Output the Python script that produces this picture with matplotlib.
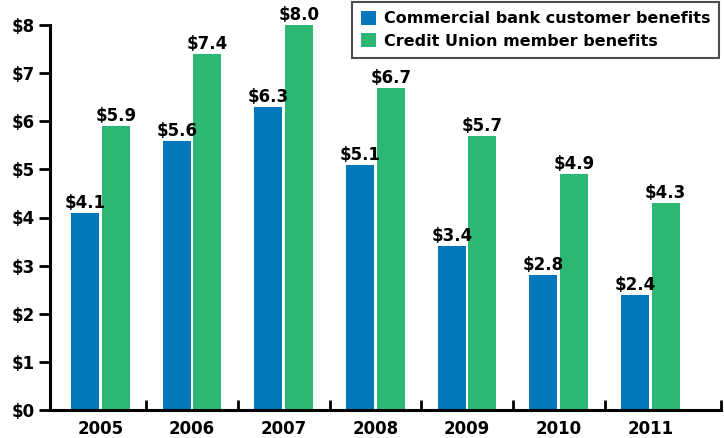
import numpy as np
import matplotlib.pyplot as plt

years = ["2005", "2006", "2007", "2008", "2009", "2010", "2011"]
bank_benefits = [4.1, 5.6, 6.3, 5.1, 3.4, 2.8, 2.4]
cu_benefits = [5.9, 7.4, 8.0, 6.7, 5.7, 4.9, 4.3]
y_ticks = [0, 1, 2, 3, 4, 5, 6, 7, 8]

blue = "#0277BA"
green = "#2DB774"

plt.rcParams['font.family'] = ['DejaVu Sans']
plt.rcParams['font.weight'] = 'bold'

fig = plt.figure(figsize=(7.24, 4.38), dpi=100)
ax = fig.add_axes([50 / 724, 28 / 438, 671 / 724, 385 / 438])

x = np.arange(len(years))
w = 0.305
off = 0.167
b1 = ax.bar(x - off, bank_benefits, w, color=blue, label="Commercial bank customer benefits")
b2 = ax.bar(x + off, cu_benefits, w, color=green, label="Credit Union member benefits")

fs = 12
for bars, vals in ((b1, bank_benefits), (b2, cu_benefits)):
    for r, v in zip(bars, vals):
        ax.text(r.get_x() + r.get_width() / 2, v + 0.02, f"${v:.1f}",
                ha="center", va="bottom", fontsize=fs, fontweight="bold")

ax.set_xlim(-0.55, 6.77)
ax.set_ylim(0, 8)

ax.set_yticks(y_ticks)
ax.set_yticklabels([f"${t}" for t in y_ticks], fontsize=fs, fontweight="bold")
ax.tick_params(axis="y", direction="out", length=8, width=2, pad=3)

# year labels centred under groups, ticks sit on the group boundaries
ax.set_xticks(list(x + 0.5)[:-1] + [6.77])
ax.set_xticklabels([])
ax.tick_params(axis="x", direction="in", length=7, width=2)
for xi, yr in zip(x, years):
    ax.text(xi, -0.2, yr, ha="center", va="top", fontsize=fs,
            fontweight="bold", clip_on=False)

for side in ("top", "right"):
    ax.spines[side].set_visible(False)
for side in ("left", "bottom"):
    ax.spines[side].set_linewidth(2.2)

leg = ax.legend(loc="upper right", bbox_to_anchor=(719 / 724, 1 - 2 / 438),
                bbox_transform=fig.transFigure,
                frameon=True, fancybox=False, handlelength=0.95, handleheight=0.95,
                handletextpad=0.5, borderpad=0.55, labelspacing=0.45,
                borderaxespad=0, prop={"weight": "bold", "size": 11.5})
leg.get_frame().set_edgecolor("#222222")
leg.get_frame().set_linewidth(1.5)

fig.savefig("out.png", dpi=100)
